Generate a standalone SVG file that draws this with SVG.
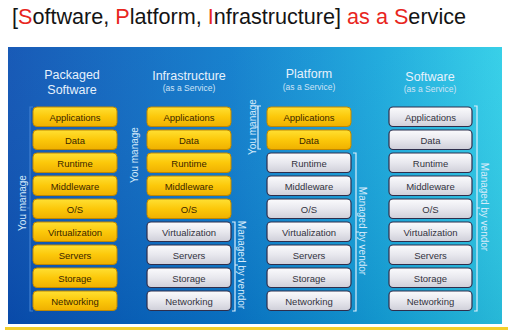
<svg xmlns="http://www.w3.org/2000/svg" width="508" height="330" viewBox="0 0 508 330">
<defs>
<linearGradient id="bg" x1="0" y1="0" x2="1" y2="0">
<stop offset="0" stop-color="#0a50b2"/>
<stop offset="0.45" stop-color="#0a7acb"/>
<stop offset="0.75" stop-color="#15a6db"/>
<stop offset="1" stop-color="#2ccde7"/>
</linearGradient>
<linearGradient id="shade" x1="0" y1="0" x2="0" y2="1">
<stop offset="0" stop-color="#ffffff" stop-opacity="0.06"/>
<stop offset="1" stop-color="#001a60" stop-opacity="0.12"/>
</linearGradient>
<linearGradient id="yel" x1="0" y1="0" x2="0" y2="1">
<stop offset="0" stop-color="#ffe033"/>
<stop offset="0.5" stop-color="#fcc80a"/>
<stop offset="1" stop-color="#efb000"/>
</linearGradient>
<linearGradient id="gry" x1="0" y1="0" x2="0" y2="1">
<stop offset="0" stop-color="#fbfbfd"/>
<stop offset="0.5" stop-color="#e8e8ee"/>
<stop offset="1" stop-color="#cfcfd9"/>
</linearGradient>
</defs>
<style>
text{font-family:"Liberation Sans",Arial,sans-serif}
.y{fill:url(#yel);stroke:#c08800;stroke-width:1}
.g{fill:url(#gry);stroke:#2e2e4c;stroke-width:1.2}
.bl{font-size:9.5px;text-anchor:middle}
.yt{fill:#3a2600}
.gt{fill:#333340}
.hd{font-size:12.5px;fill:#e6f1fc;text-anchor:middle}
.sub{font-size:8.5px;fill:#cfe3f6;text-anchor:middle}
.side{font-size:10px;fill:#d6ebfb;text-anchor:middle}
.br{fill:none;stroke:#dbeefc;stroke-width:1.2}
.brd{fill:none;stroke:#3f7fd0;stroke-width:1.2}
.red{fill:#e8261e}
</style>
<rect width="508" height="330" fill="#ffffff"/>
<text x="12" y="24" font-size="22" fill="#141414" textLength="454" lengthAdjust="spacingAndGlyphs">[<tspan class="red">S</tspan>oftware, <tspan class="red">P</tspan>latform, <tspan class="red">I</tspan>nfrastructure] <tspan class="red">as a S</tspan>ervice</text>
<rect x="8" y="47" width="494" height="277" fill="url(#bg)"/>
<rect x="8" y="47" width="494" height="277" fill="url(#shade)"/>
<rect x="5" y="327" width="503" height="3" fill="#f3cf2a"/>

<g id="packaged">
<text class="hd" x="72" y="79">Packaged</text>
<text class="hd" x="72" y="94">Software</text>
<g class="bl yt">
<rect class="y" x="33" y="107" width="84" height="19.5" rx="4"/><text x="75" y="120.5">Applications</text>
<rect class="y" x="33" y="130" width="84" height="19.5" rx="4"/><text x="75" y="143.5">Data</text>
<rect class="y" x="33" y="153" width="84" height="19.5" rx="4"/><text x="75" y="166.5">Runtime</text>
<rect class="y" x="33" y="176" width="84" height="19.5" rx="4"/><text x="75" y="189.5">Middleware</text>
<rect class="y" x="33" y="199" width="84" height="19.5" rx="4"/><text x="75" y="212.5">O/S</text>
<rect class="y" x="33" y="222" width="84" height="19.5" rx="4"/><text x="75" y="235.5">Virtualization</text>
<rect class="y" x="33" y="245" width="84" height="19.5" rx="4"/><text x="75" y="258.5">Servers</text>
<rect class="y" x="33" y="268" width="84" height="19.5" rx="4"/><text x="75" y="281.5">Storage</text>
<rect class="y" x="33" y="291" width="84" height="19.5" rx="4"/><text x="75" y="304.5">Networking</text>
</g>
</g>

<g id="iaas">
<text class="hd" x="189" y="80">Infrastructure</text>
<text class="sub" x="189" y="91">(as a Service)</text>
<g class="bl">
<rect class="y" x="147" y="107" width="84" height="19.5" rx="4"/><text class="yt" x="189" y="120.5">Applications</text>
<rect class="y" x="147" y="130" width="84" height="19.5" rx="4"/><text class="yt" x="189" y="143.5">Data</text>
<rect class="y" x="147" y="153" width="84" height="19.5" rx="4"/><text class="yt" x="189" y="166.5">Runtime</text>
<rect class="y" x="147" y="176" width="84" height="19.5" rx="4"/><text class="yt" x="189" y="189.5">Middleware</text>
<rect class="y" x="147" y="199" width="84" height="19.5" rx="4"/><text class="yt" x="189" y="212.5">O/S</text>
<rect class="g" x="147" y="222" width="84" height="19.5" rx="4"/><text class="gt" x="189" y="235.5">Virtualization</text>
<rect class="g" x="147" y="245" width="84" height="19.5" rx="4"/><text class="gt" x="189" y="258.5">Servers</text>
<rect class="g" x="147" y="268" width="84" height="19.5" rx="4"/><text class="gt" x="189" y="281.5">Storage</text>
<rect class="g" x="147" y="291" width="84" height="19.5" rx="4"/><text class="gt" x="189" y="304.5">Networking</text>
</g>
</g>

<g id="paas">
<text class="hd" x="309" y="78">Platform</text>
<text class="sub" x="309" y="90">(as a Service)</text>
<g class="bl">
<rect class="y" x="267" y="107" width="84" height="19.5" rx="4"/><text class="yt" x="309" y="120.5">Applications</text>
<rect class="y" x="267" y="130" width="84" height="19.5" rx="4"/><text class="yt" x="309" y="143.5">Data</text>
<rect class="g" x="267" y="153" width="84" height="19.5" rx="4"/><text class="gt" x="309" y="166.5">Runtime</text>
<rect class="g" x="267" y="176" width="84" height="19.5" rx="4"/><text class="gt" x="309" y="189.5">Middleware</text>
<rect class="g" x="267" y="199" width="84" height="19.5" rx="4"/><text class="gt" x="309" y="212.5">O/S</text>
<rect class="g" x="267" y="222" width="84" height="19.5" rx="4"/><text class="gt" x="309" y="235.5">Virtualization</text>
<rect class="g" x="267" y="245" width="84" height="19.5" rx="4"/><text class="gt" x="309" y="258.5">Servers</text>
<rect class="g" x="267" y="268" width="84" height="19.5" rx="4"/><text class="gt" x="309" y="281.5">Storage</text>
<rect class="g" x="267" y="291" width="84" height="19.5" rx="4"/><text class="gt" x="309" y="304.5">Networking</text>
</g>
</g>

<g id="saas">
<text class="hd" x="430" y="81">Software</text>
<text class="sub" x="430" y="92">(as a Service)</text>
<g class="bl gt">
<rect class="g" x="389" y="107" width="83" height="19.5" rx="4"/><text x="430.5" y="120.5">Applications</text>
<rect class="g" x="389" y="130" width="83" height="19.5" rx="4"/><text x="430.5" y="143.5">Data</text>
<rect class="g" x="389" y="153" width="83" height="19.5" rx="4"/><text x="430.5" y="166.5">Runtime</text>
<rect class="g" x="389" y="176" width="83" height="19.5" rx="4"/><text x="430.5" y="189.5">Middleware</text>
<rect class="g" x="389" y="199" width="83" height="19.5" rx="4"/><text x="430.5" y="212.5">O/S</text>
<rect class="g" x="389" y="222" width="83" height="19.5" rx="4"/><text x="430.5" y="235.5">Virtualization</text>
<rect class="g" x="389" y="245" width="83" height="19.5" rx="4"/><text x="430.5" y="258.5">Servers</text>
<rect class="g" x="389" y="268" width="83" height="19.5" rx="4"/><text x="430.5" y="281.5">Storage</text>
<rect class="g" x="389" y="291" width="83" height="19.5" rx="4"/><text x="430.5" y="304.5">Networking</text>
</g>
</g>

<g id="connectors">
<path class="brd" d="M33,107 H30 V311 H33 M30,208 H27"/>
<text class="side" transform="translate(26,203) rotate(-90)">You manage</text>
<text class="side" transform="translate(138,155) rotate(-90)">You manage</text>
<path class="br" d="M232,222 H235 V311 H232 M235,265 H238"/>
<text class="side" transform="translate(238,265) rotate(90)">Managed by vendor</text>
<path class="br" d="M261,106 H258 V149 H261 M258,127 H255"/>
<text class="side" transform="translate(256,127) rotate(-90)">You manage</text>
<path class="br" d="M353,153 H356 V311 H353 M356,232 H359"/>
<text class="side" transform="translate(359,231) rotate(90)">Managed by vendor</text>
<path class="br" d="M474,106 H477 V311 H474 M477,208 H480"/>
<text class="side" transform="translate(481,207) rotate(90)">Managed by vendor</text>
</g>
</svg>
